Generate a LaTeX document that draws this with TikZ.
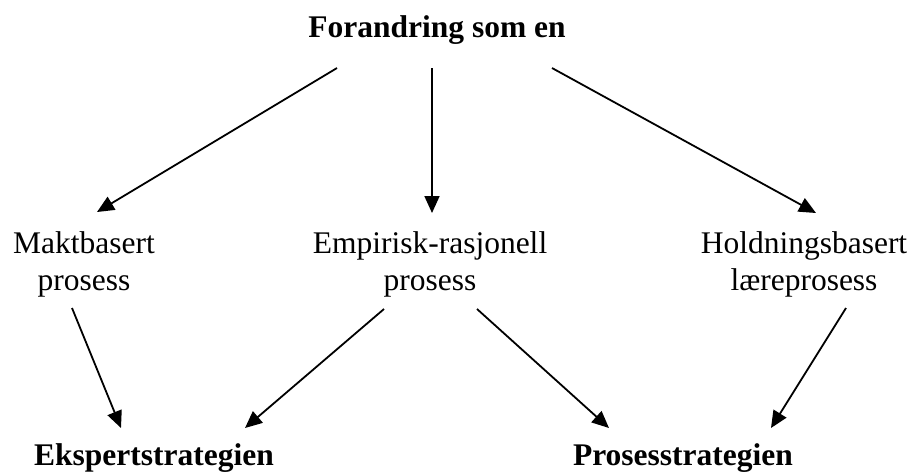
\documentclass[tikz,border=0pt]{standalone}
\usepackage{fontspec}
\setmainfont{Liberation Serif}
\usetikzlibrary{arrows.meta}
\begin{document}
\begin{tikzpicture}[x=1pt,y=-1pt,
  lbl/.style={inner sep=0pt,align=center,font=\fontsize{31.5}{37}\selectfont},
  head/.style={inner sep=0pt,font=\fontsize{31.5}{37}\selectfont\bfseries},
  arr/.style={line width=1.8pt,-{Triangle[length=17pt,width=15pt]}}]
\useasboundingbox (0,0) rectangle (913,475);

% headline
\node[head,anchor=base] (top) at (437,37) {Forandring som en};

% the three kinds of process
\node[lbl] (makt) at (84,264) {Maktbasert\\prosess};
\node[lbl] (emp)  at (430,264) {Empirisk-rasjonell\\prosess};
\node[lbl] (hold) at (804,264) {Holdningsbasert\\læreprosess};

% the two strategies
\node[head,anchor=base] (eksp) at (154,465) {Ekspertstrategien};
\node[head,anchor=base] (pros) at (683,465) {Prosesstrategien};

% from the headline down to the processes
\draw[arr] ([shift={(-100,31)}]top.base) -- ([shift={(13,-52)}]makt.center);
\draw[arr] ([shift={(-5,31)}]top.base)   -- ([shift={(2,-51)}]emp.center);
\draw[arr] ([shift={(115,31)}]top.base)  -- ([shift={(12,-51)}]hold.center);

% from the processes down to the strategies
\draw[arr] ([shift={(-12,44)}]makt.center) -- ([shift={(-33,-37)}]eksp.base);
\draw[arr] ([shift={(-46,45)}]emp.center)  -- ([shift={(91,-37)}]eksp.base);
\draw[arr] ([shift={(47,45)}]emp.center)   -- ([shift={(-74,-37)}]pros.base);
\draw[arr] ([shift={(42,44)}]hold.center)  -- ([shift={(88,-37)}]pros.base);
\end{tikzpicture}
\end{document}
